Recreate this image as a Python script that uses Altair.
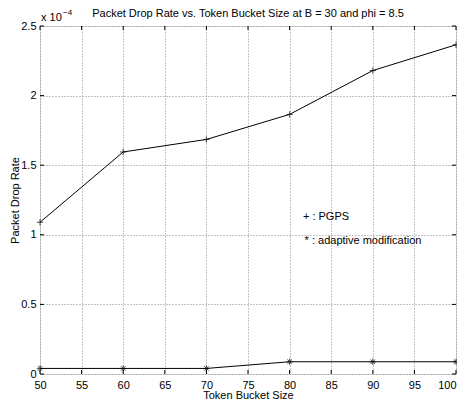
import altair as alt
import pandas as pd

bucket = [50, 60, 70, 80, 90, 100]
pgps = [1.09, 1.595, 1.685, 1.865, 2.18, 2.365]
adaptive = [0.04, 0.04, 0.04, 0.088, 0.088, 0.088]
x_ticks = [50, 55, 60, 65, 70, 75, 80, 85, 90, 95, 100]
y_ticks = [0, 0.5, 1, 1.5, 2, 2.5]

FONT = "Liberation Sans"
W, H = 416, 348

df = pd.DataFrame({"x": bucket, "pgps": pgps, "adaptive": adaptive})

xs = alt.Scale(domain=[50, 100], nice=False, zero=False)
ys = alt.Scale(domain=[0, 2.5], nice=False)

xaxis = alt.Axis(values=x_ticks, grid=True, gridDash=[1, 2], gridColor="#888888",
                 gridWidth=1, ticks=False, domain=False, labelFont=FONT, labelFontSize=11,
                 labelColor="black", labelPadding=5,
                 labelAlign=alt.ExprRef("datum.value == 100 ? 'right' : 'center'"),
                 title="Token Bucket Size",
                 titleFont=FONT, titleFontSize=11, titleFontWeight="normal",
                 titleColor="black", titleBaseline="middle", titleY=21)
yaxis = alt.Axis(values=y_ticks, grid=True, gridDash=[1, 2], gridColor="#888888",
                 gridWidth=1, ticks=False, domain=False, labelFont=FONT, labelFontSize=11,
                 labelColor="black", labelPadding=4, format="~g",
                 title="Packet Drop Rate", titleFont=FONT, titleFontSize=11,
                 titleFontWeight="normal", titleColor="black",
                 titleX=-25, titleY=H / 2, titleAngle=-90, titleAlign="center",
                 titleBaseline="middle")

plus = "M-1,0L1,0M0,-1L0,1"
star = "M-1,0L1,0M0,-1L0,1M-0.7,-0.7L0.7,0.7M-0.7,0.7L0.7,-0.7"

base = alt.Chart(df)
line1 = base.mark_line(color="black", strokeWidth=1).encode(
    x=alt.X("x:Q", scale=xs, axis=xaxis), y=alt.Y("pgps:Q", scale=ys, axis=yaxis))
pts1 = base.mark_point(shape=plus, color="black", filled=False, strokeWidth=1, size=40).encode(
    x=alt.X("x:Q", scale=xs), y=alt.Y("pgps:Q", scale=ys))
line2 = base.mark_line(color="black", strokeWidth=1).encode(
    x=alt.X("x:Q", scale=xs), y=alt.Y("adaptive:Q", scale=ys))
pts2 = base.mark_point(shape=star, color="black", filled=False, strokeWidth=1, size=40).encode(
    x=alt.X("x:Q", scale=xs), y=alt.Y("adaptive:Q", scale=ys))

# inward ticks
xt = pd.DataFrame({"t": x_ticks})
yt = pd.DataFrame({"t": y_ticks})
xtick_b = alt.Chart(xt).mark_rule(color="black", strokeWidth=1).encode(
    x=alt.X("t:Q", scale=xs), y=alt.value(H), y2=alt.value(H - 4))
xtick_t = alt.Chart(xt).mark_rule(color="black", strokeWidth=1).encode(
    x=alt.X("t:Q", scale=xs), y=alt.value(0), y2=alt.value(4))
ytick_l = alt.Chart(yt).mark_rule(color="black", strokeWidth=1).encode(
    y=alt.Y("t:Q", scale=ys), x=alt.value(0), x2=alt.value(4))
ytick_r = alt.Chart(yt).mark_rule(color="black", strokeWidth=1).encode(
    y=alt.Y("t:Q", scale=ys), x=alt.value(W), x2=alt.value(W - 4))

# annotations
ann = pd.DataFrame({"x": [81.6, 81.8], "y": [1.13, 0.955],
                    "label": ["+ : PGPS", "* : adaptive modification"]})
ann_text = alt.Chart(ann).mark_text(font=FONT, fontSize=11, align="left",
                                    baseline="middle", color="black").encode(
    x=alt.X("x:Q", scale=xs), y=alt.Y("y:Q", scale=ys), text="label:N")

exp = pd.DataFrame({"x": [50], "y": [2.5]})
exp_base = alt.Chart(exp).mark_text(font=FONT, fontSize=11, align="left",
                                    baseline="middle", color="black", dx=1, dy=-8).encode(
    x=alt.X("x:Q", scale=xs), y=alt.Y("y:Q", scale=ys), text=alt.value("x 10"))
exp_sup = alt.Chart(exp).mark_text(font=FONT, fontSize=8, align="left",
                                   baseline="middle", color="black", dx=23, dy=-13).encode(
    x=alt.X("x:Q", scale=xs), y=alt.Y("y:Q", scale=ys), text=alt.value("\u22124"))

title_df = pd.DataFrame({"x": [75], "y": [2.5],
                         "t": ["Packet Drop Rate vs. Token Bucket Size at B = 30 and phi = 8.5"]})
title_text = alt.Chart(title_df).mark_text(font=FONT, fontSize=11, align="center",
                                           baseline="middle", color="black", dy=-12).encode(
    x=alt.X("x:Q", scale=xs), y=alt.Y("y:Q", scale=ys), text="t:N")

chart = alt.layer(line1, line2, pts1, pts2, xtick_b, xtick_t, ytick_l, ytick_r,
                  ann_text, exp_base, exp_sup, title_text).properties(
    width=W, height=H,
    autosize=alt.AutoSizeParams(type="none"),
    padding={"left": 32, "top": 18, "right": 1, "bottom": 26},
).configure_view(stroke="black", strokeWidth=1).configure(background="white")

chart.save("out.html", embed_options={"renderer": "svg", "actions": False})
